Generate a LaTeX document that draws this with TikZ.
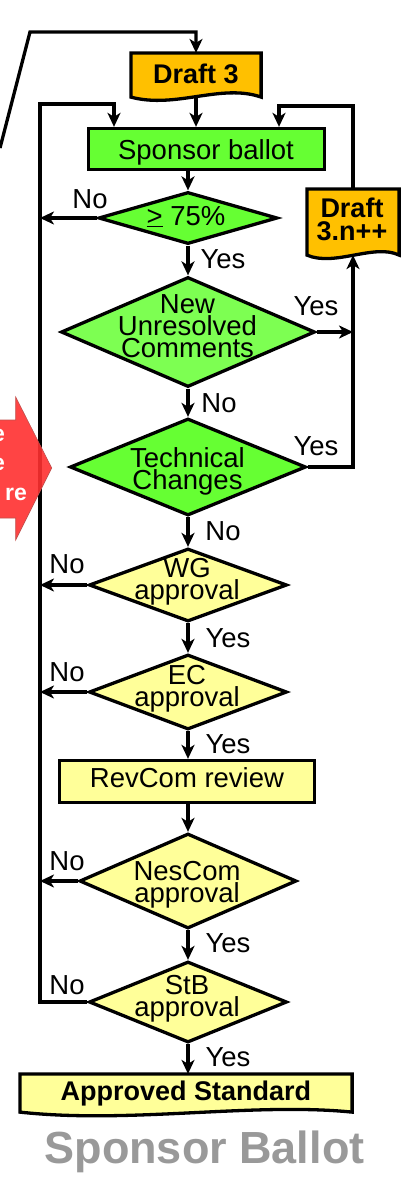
\documentclass[tikz,border=0pt]{standalone}
\usepackage{fontspec}
\setmainfont{Liberation Sans}
\usetikzlibrary{shapes.geometric,arrows.meta}
\definecolor{docorange}{HTML}{FFC000}
\definecolor{boxgreen}{HTML}{66FF33}
\definecolor{lightyellow}{HTML}{FFFF99}
\definecolor{arrowred}{HTML}{FF3030}
\definecolor{arrowedge}{HTML}{C0504D}
\definecolor{titlegray}{HTML}{999999}
\tikzset{
  conn/.style={line width=3.3pt, -{Stealth[length=14pt,width=13pt,inset=4pt]}},
  procbox/.style={draw, line width=3.3pt, rectangle, inner sep=0pt},
  dia/.style={draw, line width=3.3pt, diamond, inner sep=0pt},
  docshape/.style={rectangle, inner sep=0pt, outer sep=1.6pt},
  docline/.style={line width=3.3pt},
  txt/.style={font=\fontsize{27.5}{22}\selectfont, inner sep=0pt, align=center, anchor=base},
  btxt/.style={font=\fontsize{27}{22.5}\selectfont\bfseries, inner sep=0pt, align=center, anchor=base},
  lbl/.style={font=\fontsize{27.5}{22}\selectfont, inner sep=0pt, anchor=base},
  redtxt/.style={font=\fontsize{23}{29}\selectfont\bfseries, text=white, inner sep=0pt, anchor=base east},
}
\begin{document}
\begin{tikzpicture}[x=1pt,y=-1pt]
\useasboundingbox (0,0) rectangle (402,1186);
\clip (0,0) rectangle (402,1186);

% ---------- documents ----------
\node[docshape, minimum width=127pt, minimum height=41pt] (d3) at (196,75) {};
\draw[docline, fill=docorange] (d3.north west) -- (d3.north east) -- (d3.south east)
  .. controls +(-40,-14) and +(45,12) .. (d3.south west) -- cycle;
\node[btxt] (d3t) at (196,83) {Draft 3};

\node[docshape, minimum width=89pt, minimum height=63pt] (dn) at (353,222) {};
\draw[docline, fill=docorange] (dn.north west) -- (dn.north east) -- (dn.south east)
  .. controls +(-25,-12) and +(28,12) .. (dn.south west) -- cycle;
\node[btxt] (dnt) at (352,240) {Draft\\3.n++};

\node[docshape, minimum width=329pt, minimum height=35pt] (as) at (186,1093) {};
\draw[docline, fill=lightyellow] (as.north west) -- (as.north east) -- (as.south east)
  .. controls +(-100,-10) and +(110,12) .. (as.south west) -- cycle;
\node[btxt] (ast) at (186,1100) {Approved Standard};

% ---------- process boxes ----------
\node[procbox, fill=boxgreen, minimum width=236pt, minimum height=41pt] (sb) at (206.5,149) {};
\node[txt] (sbt) at (206,159) {Sponsor ballot};

\node[procbox, fill=lightyellow, minimum width=255pt, minimum height=42pt] (rc) at (187,781.5) {};
\node[txt] (rct) at (187,787) {RevCom review};

% ---------- decisions ----------
\node[dia, fill=boxgreen, minimum width=179pt, minimum height=52pt] (d75) at (188,218) {};
\node[txt] (d75t) at (186,225) {\underline{>} 75\%};

\node[dia, fill=boxgreen!85!white, minimum width=254pt, minimum height=110pt] (nuc) at (188,332) {};
\node[txt] (nuct) at (187.5,357) {New\\Unresolved\\Comments};

\node[dia, fill=boxgreen, minimum width=236pt, minimum height=97pt] (tc) at (188,467) {};
\node[txt] (tct) at (187.5,489) {Technical\\Changes};

\node[dia, fill=lightyellow, minimum width=198pt, minimum height=73pt] (wg) at (188,585) {};
\node[txt] (wgt) at (187,599) {WG\\approval};

\node[dia, fill=lightyellow, minimum width=198pt, minimum height=75pt] (ec) at (188,692) {};
\node[txt] (ect) at (187,706) {EC\\approval};

\node[dia, fill=lightyellow, minimum width=217pt, minimum height=95pt] (nes) at (188,881) {};
\node[txt] (nest) at (187,902) {NesCom\\approval};

\node[dia, fill=lightyellow, minimum width=198pt, minimum height=81pt] (stb) at (188,1002) {};
\node[txt] (stbt) at (187,1016) {StB\\approval};

% ---------- helper coordinates ----------
\coordinate (start) at (0,148);
\coordinate (topbend) at (30,32);
\coordinate (Ltop) at (40,104);
\coordinate (Lin) at (114,104);
\coordinate (Rtop) at (353,106);
\coordinate (Rin) at (279,106);

% ---------- connectors ----------
\draw[conn] (start) -- (topbend) -- (topbend -| d3.north) -- (d3.north);
\draw[conn] (d3.south) -- (d3.south |- sb.north);
\draw[conn] (sb.south -| d75.north) -- (d75.north);
\draw[conn] (d75.south) -- (nuc.north);
\draw[conn] (nuc.south) -- (tc.north);
\draw[conn] (tc.south) -- (wg.north);
\draw[conn] (wg.south) -- (ec.north);
\draw[conn] (ec.south) -- (ec.south |- rc.north);
\draw[conn] (rc.south -| nes.north) -- (nes.north);
\draw[conn] (nes.south) -- (stb.north);
\draw[conn] (stb.south) -- (stb.south |- as.north);

% left return loop
\draw[conn] (stb.west) -- (stb.west -| Ltop) -- (Ltop) -- (Lin) -- (Lin |- sb.north);
\draw[conn] (d75.west) -- (d75.west -| Ltop);
\draw[conn] (wg.west) -- (wg.west -| Ltop);
\draw[conn] (ec.west) -- (ec.west -| Ltop);
\draw[conn] (nes.west) -- (nes.west -| Ltop);

% right revision loop
\draw[conn] (nuc.east) -- (nuc.east -| dn.south);
\draw[conn] (tc.east) -- (tc.east -| dn.south) -- (dn.south);
\draw[conn] (dn.north) -- (Rtop) -- (Rin) -- (Rin |- sb.north);

% ---------- labels ----------
\node[lbl] (no1) at (90,208) {No};
\node[lbl] (yes1) at (223,268) {Yes};
\node[lbl] (yes2) at (316,315) {Yes};
\node[lbl] (no2) at (219,412) {No};
\node[lbl] (yes3) at (316,455) {Yes};
\node[lbl] (no3) at (223,540) {No};
\node[lbl] (no4) at (67,573) {No};
\node[lbl] (yes4) at (228,647) {Yes};
\node[lbl] (no5) at (67,681) {No};
\node[lbl] (yes5) at (228,753) {Yes};
\node[lbl] (no6) at (67,870) {No};
\node[lbl] (yes6) at (228,952) {Yes};
\node[lbl] (no7) at (67,994) {No};
\node[lbl] (yes7) at (228,1066) {Yes};

% ---------- red arrow at the left edge (cut off) ----------
\draw[draw=arrowedge, line width=0.6pt, fill=arrowred, fill opacity=0.9]
  (-5,420) -- (15.7,420) -- (15.7,397) -- (51.7,468) -- (15.7,540) -- (15.7,518) -- (-5,518) -- cycle;
\node[redtxt] (r1) at (5,441) {e};
\node[redtxt] (r2) at (5,470) {e};
\node[redtxt] (r3) at (27,500) {re};

% ---------- title ----------
\node[font=\fontsize{45}{45}\selectfont\bfseries, text=titlegray, inner sep=0pt, anchor=base] (title) at (204.5,1163) {Sponsor Ballot};
\end{tikzpicture}
\end{document}
